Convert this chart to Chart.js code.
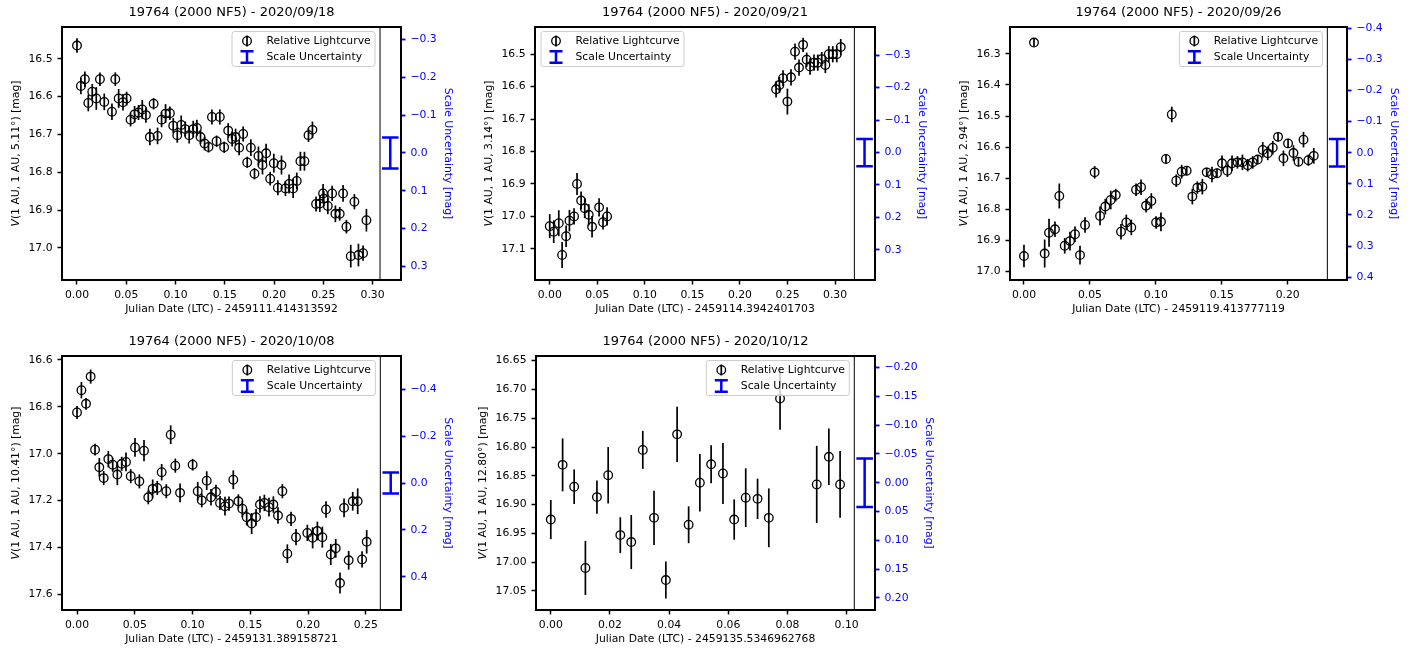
<!DOCTYPE html>
<html>
<head>
<meta charset="utf-8">
<script src="https://cdn.jsdelivr.net/npm/chart.js@4.4.0/dist/chart.umd.min.js"></script>
<style>
  html, body { margin: 0; padding: 0; background: #fff; overflow: hidden; }
  body { width: 1411px; height: 651px; position: relative; }
  canvas { position: absolute; }
</style>
</head>
<body>
<canvas id="lc1" width="463" height="325" style="left:0px;top:0px"></canvas>
<canvas id="lc2" width="464" height="325" style="left:473px;top:0px"></canvas>
<canvas id="lc3" width="461" height="325" style="left:948px;top:0px"></canvas>
<canvas id="lc4" width="463" height="326" style="left:0px;top:329px"></canvas>
<canvas id="lc5" width="463" height="326" style="left:474px;top:329px"></canvas>
<script>
// lightcurve values (time in days since the reference JD, mag, 1-sigma error)
const p1Time = [0.0000, 0.0040, 0.0080, 0.0115, 0.0155, 0.0196, 0.0233, 0.0277, 0.0355, 0.0389, 0.0423, 0.0467, 0.0504, 0.0544, 0.0585, 0.0625, 0.0663, 0.0700, 0.0740, 0.0778, 0.0818, 0.0859, 0.0899, 0.0943, 0.0977, 0.1018, 0.1058, 0.1099, 0.1139, 0.1180, 0.1217, 0.1254, 0.1295, 0.1335, 0.1370, 0.1417, 0.1450, 0.1494, 0.1535, 0.1575, 0.1610, 0.1646, 0.1687, 0.1728, 0.1765, 0.1802, 0.1842, 0.1883, 0.1920, 0.1961, 0.1998, 0.2039, 0.2076, 0.2116, 0.2153, 0.2194, 0.2231, 0.2268, 0.2309, 0.2350, 0.2390, 0.2427, 0.2465, 0.2498, 0.2505, 0.2546, 0.2590, 0.2623, 0.2667, 0.2701, 0.2735, 0.2779, 0.2816, 0.2857, 0.2904, 0.2938];
const p1Mag = [16.465, 16.572, 16.554, 16.617, 16.587, 16.605, 16.554, 16.614, 16.640, 16.554, 16.605, 16.615, 16.605, 16.661, 16.647, 16.642, 16.634, 16.649, 16.707, 16.619, 16.704, 16.661, 16.645, 16.644, 16.677, 16.702, 16.675, 16.686, 16.702, 16.686, 16.683, 16.707, 16.724, 16.733, 16.654, 16.718, 16.654, 16.734, 16.690, 16.712, 16.707, 16.735, 16.699, 16.774, 16.735, 16.804, 16.757, 16.781, 16.750, 16.817, 16.776, 16.841, 16.781, 16.843, 16.831, 16.843, 16.823, 16.771, 16.771, 16.702, 16.688, 16.884, 16.883, 16.856, 16.870, 16.889, 16.856, 16.910, 16.910, 16.856, 16.944, 17.022, 16.878, 17.019, 17.014, 16.927];
const p1Err = [0.019, 0.022, 0.020, 0.022, 0.020, 0.030, 0.018, 0.022, 0.022, 0.018, 0.025, 0.022, 0.018, 0.018, 0.022, 0.020, 0.025, 0.020, 0.022, 0.015, 0.022, 0.020, 0.025, 0.018, 0.020, 0.020, 0.025, 0.020, 0.022, 0.022, 0.022, 0.018, 0.018, 0.015, 0.020, 0.015, 0.020, 0.015, 0.020, 0.020, 0.022, 0.020, 0.020, 0.015, 0.022, 0.015, 0.025, 0.025, 0.025, 0.018, 0.025, 0.020, 0.025, 0.020, 0.025, 0.025, 0.022, 0.025, 0.025, 0.018, 0.022, 0.020, 0.022, 0.025, 0.020, 0.022, 0.020, 0.022, 0.018, 0.022, 0.018, 0.030, 0.020, 0.030, 0.020, 0.030];

const p2Time = [0.0000, 0.0042, 0.0095, 0.0130, 0.0172, 0.0207, 0.0256, 0.0287, 0.0330, 0.0368, 0.0410, 0.0445, 0.0519, 0.0560, 0.0603, 0.2380, 0.2415, 0.2453, 0.2499, 0.2537, 0.2579, 0.2621, 0.2664, 0.2702, 0.2737, 0.2779, 0.2818, 0.2860, 0.2898, 0.2934, 0.2976, 0.3018, 0.3060];
const p2Mag = [17.030, 17.047, 17.021, 17.119, 17.061, 17.013, 17.000, 16.900, 16.951, 16.975, 16.995, 17.032, 16.972, 17.018, 17.000, 16.608, 16.595, 16.574, 16.646, 16.571, 16.492, 16.541, 16.471, 16.517, 16.538, 16.526, 16.526, 16.515, 16.533, 16.500, 16.500, 16.500, 16.478];
const p2Err = [0.037, 0.035, 0.040, 0.040, 0.033, 0.033, 0.025, 0.034, 0.028, 0.030, 0.033, 0.033, 0.028, 0.022, 0.028, 0.025, 0.025, 0.025, 0.040, 0.025, 0.025, 0.025, 0.022, 0.022, 0.025, 0.025, 0.025, 0.022, 0.025, 0.025, 0.025, 0.025, 0.025];

const p3Time = [0.0000, 0.0076, 0.0157, 0.0190, 0.0235, 0.0268, 0.0309, 0.0349, 0.0387, 0.0425, 0.0463, 0.0536, 0.0577, 0.0617, 0.0658, 0.0696, 0.0736, 0.0776, 0.0814, 0.0850, 0.0888, 0.0926, 0.0966, 0.1002, 0.1039, 0.1077, 0.1121, 0.1155, 0.1196, 0.1234, 0.1277, 0.1315, 0.1353, 0.1386, 0.1426, 0.1464, 0.1502, 0.1543, 0.1578, 0.1619, 0.1657, 0.1697, 0.1735, 0.1773, 0.1811, 0.1849, 0.1887, 0.1927, 0.1968, 0.2003, 0.2044, 0.2082, 0.2120, 0.2157, 0.2198];
const p3Mag = [16.950, 16.264, 16.942, 16.875, 16.864, 16.757, 16.917, 16.902, 16.880, 16.947, 16.850, 16.681, 16.821, 16.791, 16.770, 16.754, 16.872, 16.842, 16.858, 16.737, 16.729, 16.788, 16.773, 16.842, 16.840, 16.638, 16.495, 16.708, 16.679, 16.676, 16.759, 16.730, 16.727, 16.681, 16.688, 16.684, 16.652, 16.676, 16.652, 16.649, 16.649, 16.658, 16.649, 16.640, 16.609, 16.620, 16.602, 16.567, 16.636, 16.588, 16.619, 16.647, 16.576, 16.642, 16.628];
const p3Err = [0.036, 0.012, 0.045, 0.045, 0.025, 0.040, 0.025, 0.030, 0.025, 0.030, 0.025, 0.020, 0.030, 0.025, 0.030, 0.020, 0.025, 0.025, 0.025, 0.020, 0.025, 0.022, 0.025, 0.020, 0.030, 0.015, 0.025, 0.020, 0.022, 0.015, 0.025, 0.020, 0.025, 0.015, 0.025, 0.015, 0.025, 0.020, 0.025, 0.020, 0.025, 0.020, 0.020, 0.015, 0.025, 0.022, 0.022, 0.015, 0.025, 0.015, 0.025, 0.015, 0.025, 0.018, 0.025];

const p4Time = [0.0000, 0.0038, 0.0078, 0.0118, 0.0156, 0.0193, 0.0231, 0.0271, 0.0309, 0.0349, 0.0387, 0.0424, 0.0465, 0.0502, 0.0540, 0.0580, 0.0617, 0.0655, 0.0695, 0.0733, 0.0773, 0.0811, 0.0851, 0.0892, 0.1001, 0.1045, 0.1080, 0.1123, 0.1160, 0.1203, 0.1238, 0.1281, 0.1316, 0.1353, 0.1397, 0.1431, 0.1469, 0.1512, 0.1550, 0.1584, 0.1622, 0.1662, 0.1700, 0.1740, 0.1778, 0.1821, 0.1853, 0.1896, 0.1994, 0.2040, 0.2081, 0.2124, 0.2156, 0.2197, 0.2240, 0.2277, 0.2312, 0.2352, 0.2387, 0.2430, 0.2468, 0.2508];
const p4Mag = [16.824, 16.729, 16.787, 16.671, 16.983, 17.058, 17.104, 17.023, 17.047, 17.089, 17.043, 17.035, 17.096, 16.973, 17.118, 16.987, 17.186, 17.150, 17.146, 17.079, 17.160, 16.919, 17.051, 17.167, 17.047, 17.160, 17.199, 17.115, 17.186, 17.163, 17.210, 17.224, 17.213, 17.111, 17.203, 17.235, 17.271, 17.298, 17.271, 17.217, 17.210, 17.228, 17.217, 17.264, 17.160, 17.427, 17.278, 17.356, 17.338, 17.359, 17.330, 17.356, 17.238, 17.430, 17.404, 17.552, 17.231, 17.455, 17.203, 17.203, 17.451, 17.376];
const p4Err = [0.028, 0.035, 0.025, 0.030, 0.025, 0.040, 0.030, 0.035, 0.030, 0.045, 0.030, 0.040, 0.030, 0.040, 0.030, 0.045, 0.030, 0.040, 0.030, 0.035, 0.030, 0.040, 0.030, 0.040, 0.025, 0.040, 0.030, 0.040, 0.035, 0.030, 0.030, 0.040, 0.030, 0.040, 0.030, 0.035, 0.035, 0.045, 0.035, 0.035, 0.035, 0.040, 0.035, 0.035, 0.030, 0.040, 0.030, 0.035, 0.035, 0.045, 0.040, 0.045, 0.035, 0.045, 0.040, 0.045, 0.040, 0.040, 0.040, 0.055, 0.035, 0.050];

const p5Time = [0.0000, 0.0040, 0.0079, 0.0117, 0.0156, 0.0194, 0.0235, 0.0272, 0.0311, 0.0349, 0.0389, 0.0427, 0.0466, 0.0504, 0.0542, 0.0582, 0.0620, 0.0659, 0.0699, 0.0737, 0.0775, 0.0899, 0.0940, 0.0978];
const p5Mag = [16.926, 16.831, 16.869, 17.010, 16.887, 16.849, 16.953, 16.965, 16.805, 16.923, 17.031, 16.778, 16.935, 16.862, 16.830, 16.846, 16.926, 16.888, 16.890, 16.923, 16.716, 16.865, 16.817, 16.865];
const p5Err = [0.034, 0.046, 0.030, 0.047, 0.029, 0.049, 0.031, 0.047, 0.033, 0.047, 0.032, 0.048, 0.032, 0.050, 0.033, 0.053, 0.035, 0.051, 0.035, 0.051, 0.054, 0.067, 0.049, 0.058];

// size of the scale uncertainty bar in each panel
const scaleErr = [0.041, 0.042, 0.044, 0.045, 0.042];

// tick labels
const xTicksA = [0, 0.05, 0.10, 0.15, 0.20, 0.25, 0.30];
const xTicksB = [0, 0.05, 0.10, 0.15, 0.20];
const xTicksC = [0, 0.05, 0.10, 0.15, 0.20, 0.25];
const xTicksD = [0, 0.02, 0.04, 0.06, 0.08, 0.10];
const yTicks1 = [16.5, 16.6, 16.7, 16.8, 16.9, 17.0];
const yTicks2 = [16.5, 16.6, 16.7, 16.8, 16.9, 17.0, 17.1];
const yTicks3 = [16.3, 16.4, 16.5, 16.6, 16.7, 16.8, 16.9, 17.0];
const yTicks4 = [16.6, 16.8, 17.0, 17.2, 17.4, 17.6];
const yTicks5 = [16.65, 16.70, 16.75, 16.80, 16.85, 16.90, 16.95, 17.00, 17.05];
const sTicks3 = [-0.3, -0.2, -0.1, 0, 0.1, 0.2, 0.3];
const sTicks4 = [-0.4, -0.3, -0.2, -0.1, 0, 0.1, 0.2, 0.3, 0.4];
const sTicks2 = [-0.4, -0.2, 0, 0.2, 0.4];
const sTicks20 = [-0.20, -0.15, -0.10, -0.05, 0, 0.05, 0.10, 0.15, 0.20];

const dates = ["2020/09/18", "2020/09/21", "2020/09/26", "2020/10/08", "2020/10/12"];
const refJD = ["2459111.414313592", "2459114.3942401703", "2459119.413777119", "2459131.389158721", "2459135.5346962768"];
const phaseAngle = ["5.11", "3.14", "2.94", "10.41", "12.80"];

const BLUE = "#0000ff";
const FAMILY = "'DejaVu Sans', 'Liberation Sans', sans-serif";
Chart.defaults.font.family = FAMILY;
Chart.defaults.font.size = 10.8;
Chart.defaults.color = "#000";

const panels = [
    { id: "lc1", time: p1Time, mag: p1Mag, err: p1Err, xTicks: xTicksA, yTicks: yTicks1, sTicks: sTicks3,
      xRange: [-0.0152, 0.3289], sepX: 0.3076, barX: 0.318, yRange: [16.416, 17.085], yOffset: 16.749,
      dec: 1, legend: "right", yLabelOff: 46, sTitlePad: 8.8 },
    { id: "lc2", time: p2Time, mag: p2Mag, err: p2Err, xTicks: xTicksA, yTicks: yTicks2, sTicks: sTicks3,
      xRange: [-0.0155, 0.342], sepX: 0.3203, barX: 0.331, yRange: [16.416, 17.196], yOffset: 16.803,
      dec: 1, legend: "left", yLabelOff: 46, sTitlePad: 8.8 },
    { id: "lc3", time: p3Time, mag: p3Mag, err: p3Err, xTicks: xTicksB, yTicks: yTicks3, sTicks: sTicks4,
      xRange: [-0.0106, 0.245], sepX: 0.2301, barX: 0.2375, yRange: [16.214, 17.027], yOffset: 16.618,
      dec: 1, legend: "right", yLabelOff: 46, sTitlePad: 8.8 },
    { id: "lc4", time: p4Time, mag: p4Mag, err: p4Err, xTicks: xTicksC, yTicks: yTicks4, sTicks: sTicks2,
      xRange: [-0.013, 0.2805], sepX: 0.2626, barX: 0.2716, yRange: [16.583, 17.667], yOffset: 17.125,
      dec: 1, legend: "right", yLabelOff: 46, sTitlePad: 8.8 },
    { id: "lc5", time: p5Time, mag: p5Mag, err: p5Err, xTicks: xTicksD, yTicks: yTicks5, sTicks: sTicks20,
      xRange: [-0.005, 0.1096], sepX: 0.1026, barX: 0.1061, yRange: [16.642, 17.083], yOffset: 16.862,
      dec: 2, legend: "right", yLabelOff: 53, sTitlePad: 2.2 },
];

const signed = (v, n) => (v < -1e-9 ? "\u2212" + Math.abs(v).toFixed(n) : Math.abs(v).toFixed(n));

// error bars, separator line, frame, title, y label and legend
function panelDecor(p, k) {
    return {
        id: "panelDecor",
        beforeDatasetsDraw(chart) {
            const { ctx, chartArea: a, scales } = chart;
            ctx.save();
            ctx.beginPath();
            ctx.rect(a.left, a.top, a.right - a.left, a.bottom - a.top);
            ctx.clip();
            const sx = scales.x.getPixelForValue(p.sepX);
            ctx.strokeStyle = "#000";
            ctx.lineWidth = 1;
            ctx.beginPath();
            ctx.moveTo(sx, a.top);
            ctx.lineTo(sx, a.bottom);
            ctx.stroke();
            chart.data.datasets.forEach((ds, i) => {
                const meta = chart.getDatasetMeta(i);
                const ys = scales[ds.yAxisID];
                ctx.strokeStyle = ds.barColor;
                ctx.lineWidth = ds.barWidth;
                meta.data.forEach((pt, j) => {
                    const v = ds.data[j].y, e = ds.errors[j];
                    const y1 = ys.getPixelForValue(v - e), y2 = ys.getPixelForValue(v + e);
                    ctx.beginPath();
                    ctx.moveTo(pt.x, y1);
                    ctx.lineTo(pt.x, y2);
                    if (ds.capSize) {
                        ctx.moveTo(pt.x - ds.capSize, y1);
                        ctx.lineTo(pt.x + ds.capSize, y1);
                        ctx.moveTo(pt.x - ds.capSize, y2);
                        ctx.lineTo(pt.x + ds.capSize, y2);
                    }
                    ctx.stroke();
                });
            });
            ctx.restore();
        },
        afterDraw(chart) {
            const { ctx, chartArea: a, scales } = chart;
            ctx.save();

            // legend box
            const w = 143, h = 35;
            const lx = p.legend === "left" ? a.left + 6 : scales.x.getPixelForValue(p.sepX) - 5 - w;
            const ly = a.top + 4.5;
            const r = 2.5;
            ctx.beginPath();
            ctx.moveTo(lx + r, ly);
            ctx.arcTo(lx + w, ly, lx + w, ly + h, r);
            ctx.arcTo(lx + w, ly + h, lx, ly + h, r);
            ctx.arcTo(lx, ly + h, lx, ly, r);
            ctx.arcTo(lx, ly, lx + w, ly, r);
            ctx.closePath();
            ctx.fillStyle = "rgba(255,255,255,0.8)";
            ctx.fill();
            ctx.strokeStyle = "#cccccc";
            ctx.lineWidth = 1;
            ctx.stroke();

            const mx = lx + 15, r1 = ly + 9.5, r2 = ly + 25.5;
            ctx.strokeStyle = "#000";
            ctx.lineWidth = 1.7;
            ctx.beginPath();
            ctx.moveTo(mx, r1 - 5.5);
            ctx.lineTo(mx, r1 + 5.5);
            ctx.stroke();
            ctx.lineWidth = 1.3;
            ctx.beginPath();
            ctx.arc(mx, r1, 4.3, 0, Math.PI * 2);
            ctx.stroke();
            ctx.strokeStyle = BLUE;
            ctx.lineWidth = 2.5;
            ctx.beginPath();
            ctx.moveTo(mx, r2 - 5.8);
            ctx.lineTo(mx, r2 + 5.8);
            ctx.moveTo(mx - 6.5, r2 - 5.8);
            ctx.lineTo(mx + 6.5, r2 - 5.8);
            ctx.moveTo(mx - 6.5, r2 + 5.8);
            ctx.lineTo(mx + 6.5, r2 + 5.8);
            ctx.stroke();
            ctx.fillStyle = "#000";
            ctx.font = "10.8px " + FAMILY;
            ctx.textAlign = "left";
            ctx.textBaseline = "middle";
            ctx.fillText("Relative Lightcurve", lx + 34.5, r1);
            ctx.fillText("Scale Uncertainty", lx + 34.5, r2);

            // frame
            ctx.strokeStyle = "#000";
            ctx.lineWidth = 2;
            ctx.strokeRect(a.left, a.top, a.right - a.left, a.bottom - a.top);

            // title
            ctx.font = "13px " + FAMILY;
            ctx.textAlign = "center";
            ctx.fillText("19764 (2000 NF5) - " + dates[k], (a.left + a.right) / 2, a.top - 14.5);

            // y label with italic V
            ctx.translate(a.left - p.yLabelOff, (a.top + a.bottom) / 2);
            ctx.rotate(-Math.PI / 2);
            const fIt = "italic 10.8px " + FAMILY, fUp = "10.8px " + FAMILY;
            const rest = "(1 AU, 1 AU, " + phaseAngle[k] + "\u00b0) [mag]";
            ctx.font = fIt;
            const wV = ctx.measureText("V").width;
            ctx.font = fUp;
            const wR = ctx.measureText(rest).width;
            const x0 = -(wV + wR) / 2;
            ctx.textAlign = "left";
            ctx.font = fIt;
            ctx.fillText("V", x0, 0);
            ctx.font = fUp;
            ctx.fillText(rest, x0 + wV, 0);
            ctx.restore();
        },
    };
}

panels.forEach((p, k) => {
    const tickGrid = (color, width) => ({
        drawOnChartArea: false,
        drawTicks: true,
        tickLength: 4.5,
        tickWidth: width,
        tickColor: color,
        color: color,
    });

    new Chart(document.getElementById(p.id), {
        type: "scatter",
        data: {
            datasets: [
                {
                    label: "Relative Lightcurve",
                    data: p.time.map((t, i) => ({ x: t, y: p.mag[i] })),
                    errors: p.err,
                    yAxisID: "y",
                    pointStyle: "circle",
                    pointRadius: 4.3,
                    pointBorderWidth: 1.3,
                    pointBorderColor: "#000",
                    pointBackgroundColor: "rgba(0,0,0,0)",
                    barColor: "#000",
                    barWidth: 1.7,
                },
                {
                    label: "Scale Uncertainty",
                    data: [{ x: p.barX, y: 0 }],
                    errors: [scaleErr[k]],
                    yAxisID: "y2",
                    pointRadius: 0,
                    barColor: BLUE,
                    barWidth: 2.5,
                    capSize: 8.3,
                },
            ],
        },
        options: {
            responsive: false,
            animation: false,
            devicePixelRatio: 1,
            events: [],
            layout: { padding: { top: 27 } },
            plugins: {
                legend: { display: false },
                tooltip: { enabled: false },
            },
            scales: {
                x: {
                    type: "linear",
                    position: "bottom",
                    min: p.xRange[0],
                    max: p.xRange[1],
                    afterBuildTicks: (s) => { s.ticks = p.xTicks.map((v) => ({ value: v })); },
                    afterFit: (s) => { s.height = 45; },
                    ticks: {
                        autoSkip: false,
                        maxRotation: 0,
                        padding: 4,
                        color: "#000",
                        callback: (v) => v.toFixed(2),
                    },
                    grid: tickGrid("#000", 1.5),
                    border: { display: false },
                    title: {
                        display: true,
                        text: "Julian Date (LTC) - " + refJD[k],
                        color: "#000",
                        padding: { top: 0, bottom: 9 },
                    },
                },
                y: {
                    type: "linear",
                    position: "left",
                    reverse: true,
                    min: p.yRange[0],
                    max: p.yRange[1],
                    afterBuildTicks: (s) => { s.ticks = p.yTicks.map((v) => ({ value: v })); },
                    afterFit: (s) => { s.width = 62; },
                    ticks: {
                        autoSkip: false,
                        padding: 5,
                        color: "#000",
                        callback: (v) => v.toFixed(p.dec),
                    },
                    grid: tickGrid("#000", 1.5),
                    border: { display: false },
                },
                y2: {
                    type: "linear",
                    position: "right",
                    reverse: true,
                    min: p.yRange[0] - p.yOffset,
                    max: p.yRange[1] - p.yOffset,
                    afterBuildTicks: (s) => { s.ticks = p.sTicks.map((v) => ({ value: v })); },
                    afterFit: (s) => { s.width = 62; },
                    ticks: {
                        autoSkip: false,
                        padding: 5,
                        color: BLUE,
                        callback: (v) => signed(v, p.dec),
                    },
                    grid: tickGrid(BLUE, 1.8),
                    border: { display: false },
                    title: {
                        display: true,
                        text: "Scale Uncertainty [mag]",
                        color: BLUE,
                        padding: { top: p.sTitlePad, bottom: 0 },
                    },
                },
            },
        },
        plugins: [panelDecor(p, k)],
    });
});
</script>
</body>
</html>
